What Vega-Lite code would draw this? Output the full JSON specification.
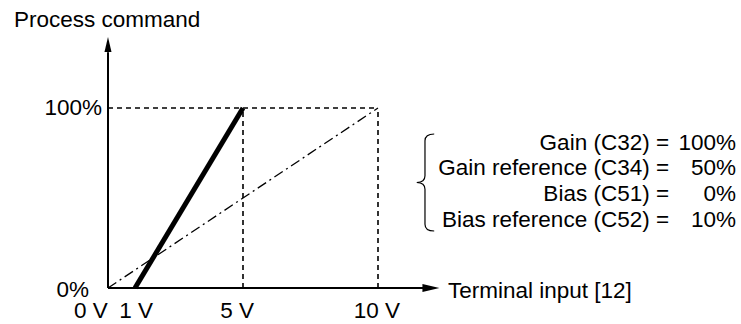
{
  "$schema": "https://vega.github.io/schema/vega-lite/v6.json",
  "width": 741,
  "height": 324,
  "autosize": "none",
  "padding": 0,
  "background": "white",
  "view": {"stroke": null},
  "config": {"text": {"font": "Liberation Sans", "color": "black"}},
  "datasets": {
    "guides": [
      {"x": 0, "y": 100, "x2": 10, "y2": 100},
      {"x": 5, "y": 0, "x2": 5, "y2": 100},
      {"x": 10, "y": 0, "x2": 10, "y2": 100}
    ],
    "axes": [
      {"x": 0, "y": 0, "x2": 11.7, "y2": 0},
      {"x": 0, "y": 0, "x2": 0, "y2": 131}
    ],
    "reference": [{"v": 0, "pct": 0}, {"v": 10, "pct": 100}],
    "setting": [{"v": 1, "pct": 0}, {"v": 5, "pct": 100}],
    "xarrow": [{"x": 11.96, "y": 0}],
    "yarrow": [{"x": 0, "y": 135.3}],
    "brace": [{"x": 11.74, "y": 58.6}],
    "xticks": [
      {"x": -0.63, "y": -13.0, "label": "0 V"},
      {"x": 1.04, "y": -13.0, "label": "1 V"},
      {"x": 4.78, "y": -13.0, "label": "5 V"},
      {"x": 9.96, "y": -13.0, "label": "10 V"}
    ],
    "yticks": [
      {"x": -0.22, "y": 100, "label": "100%"},
      {"x": -0.7, "y": -1.1, "label": "0%"}
    ],
    "titles": [
      {"x": -3.48, "y": 148.9, "label": "Process command"},
      {"x": 12.59, "y": -1.4, "label": "Terminal input [12]"}
    ],
    "params": [
      {"label": "Gain (C32) =", "value": "100%", "lx": 20.78, "vx": 23.26, "y": 80.6},
      {"label": "Gain reference (C34) =", "value": "50%", "lx": 20.78, "vx": 23.26, "y": 66.4},
      {"label": "Bias (C51) =", "value": "0%", "lx": 20.78, "vx": 23.26, "y": 52.2},
      {"label": "Bias reference (C52) =", "value": "10%", "lx": 20.78, "vx": 23.26, "y": 38.0}
    ]
  },
  "encoding": {
    "x": {"type": "quantitative", "scale": {"domain": [-4, 23.4444], "nice": false, "zero": false}, "axis": null},
    "y": {"type": "quantitative", "scale": {"domain": [-20, 160], "nice": false, "zero": false}, "axis": null}
  },
  "layer": [
    {
      "data": {"name": "guides"},
      "mark": {"type": "rule", "color": "black", "strokeWidth": 1.6, "strokeDash": [5, 4]},
      "encoding": {"x": {"field": "x"}, "y": {"field": "y"}, "x2": {"field": "x2"}, "y2": {"field": "y2"}}
    },
    {
      "data": {"name": "reference"},
      "mark": {"type": "line", "color": "black", "strokeWidth": 1.3, "strokeDash": [10, 4, 2, 4]},
      "encoding": {"x": {"field": "v"}, "y": {"field": "pct"}}
    },
    {
      "data": {"name": "setting"},
      "mark": {"type": "line", "color": "black", "strokeWidth": 5, "strokeCap": "butt"},
      "encoding": {"x": {"field": "v"}, "y": {"field": "pct"}}
    },
    {
      "data": {"name": "axes"},
      "mark": {"type": "rule", "color": "black", "strokeWidth": 2},
      "encoding": {"x": {"field": "x"}, "y": {"field": "y"}, "x2": {"field": "x2"}, "y2": {"field": "y2"}}
    },
    {
      "data": {"name": "xarrow"},
      "mark": {"type": "point", "shape": "M-1,-0.47L1,0L-1,0.47Z", "filled": true, "color": "black", "opacity": 1, "size": 289},
      "encoding": {"x": {"field": "x"}, "y": {"field": "y"}}
    },
    {
      "data": {"name": "yarrow"},
      "mark": {"type": "point", "shape": "M-0.47,1L0,-1L0.47,1Z", "filled": true, "color": "black", "opacity": 1, "size": 225},
      "encoding": {"x": {"field": "x"}, "y": {"field": "y"}}
    },
    {
      "data": {"name": "brace"},
      "mark": {"type": "point", "shape": "M0.19,-1Q0,-1 0,-0.86L0,-0.14Q0,0 -0.17,0Q0,0 0,0.14L0,0.86Q0,1 0.19,1", "filled": false, "color": "black", "opacity": 1, "strokeWidth": 1.2, "size": 9409},
      "encoding": {"x": {"field": "x"}, "y": {"field": "y"}}
    },
    {
      "data": {"name": "xticks"},
      "mark": {"type": "text", "align": "center", "baseline": "middle", "fontSize": 22.5},
      "encoding": {"x": {"field": "x"}, "y": {"field": "y"}, "text": {"field": "label"}}
    },
    {
      "data": {"name": "yticks"},
      "mark": {"type": "text", "align": "right", "baseline": "middle", "fontSize": 22.5},
      "encoding": {"x": {"field": "x"}, "y": {"field": "y"}, "text": {"field": "label"}}
    },
    {
      "data": {"name": "titles"},
      "mark": {"type": "text", "align": "left", "baseline": "middle", "fontSize": 22.5},
      "encoding": {"x": {"field": "x"}, "y": {"field": "y"}, "text": {"field": "label"}}
    },
    {
      "data": {"name": "params"},
      "mark": {"type": "text", "align": "right", "baseline": "middle", "fontSize": 22.5},
      "encoding": {"x": {"field": "lx"}, "y": {"field": "y"}, "text": {"field": "label"}}
    },
    {
      "data": {"name": "params"},
      "mark": {"type": "text", "align": "right", "baseline": "middle", "fontSize": 22.5},
      "encoding": {"x": {"field": "vx"}, "y": {"field": "y"}, "text": {"field": "value"}}
    }
  ]
}
